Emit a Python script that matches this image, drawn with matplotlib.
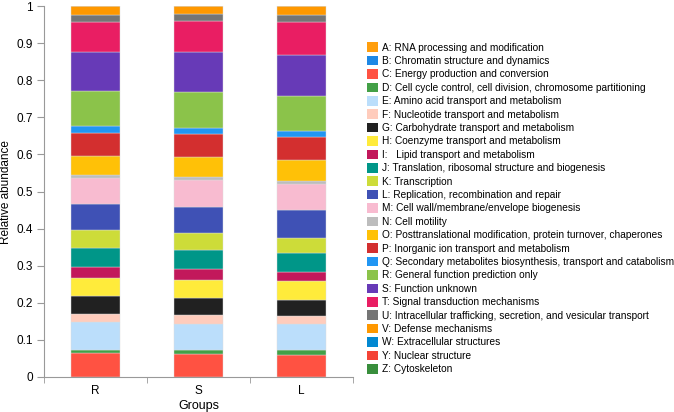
import matplotlib
matplotlib.use("Agg")
import matplotlib.pyplot as plt
from matplotlib.patches import Patch
import numpy as np

plt.rcParams['font.family'] = ['Liberation Sans', 'DejaVu Sans']

groups = ["R", "S", "L"]

codes = ["A", "B", "C", "D", "E", "F", "G", "H", "I", "J", "K", "L", "M",
         "N", "O", "P", "Q", "R", "S", "T", "U", "V", "W", "Y", "Z"]

labels = [
    "A: RNA processing and modification",
    "B: Chromatin structure and dynamics",
    "C: Energy production and conversion",
    "D: Cell cycle control, cell division, chromosome partitioning",
    "E: Amino acid transport and metabolism",
    "F: Nucleotide transport and metabolism",
    "G: Carbohydrate transport and metabolism",
    "H: Coenzyme transport and metabolism",
    "I:   Lipid transport and metabolism",
    "J: Translation, ribosomal structure and biogenesis",
    "K: Transcription",
    "L: Replication, recombination and repair",
    "M: Cell wall/membrane/envelope biogenesis",
    "N: Cell motility",
    "O: Posttranslational modification, protein turnover, chaperones",
    "P: Inorganic ion transport and metabolism",
    "Q: Secondary metabolites biosynthesis, transport and catabolism",
    "R: General function prediction only",
    "S: Function unknown",
    "T: Signal transduction mechanisms",
    "U: Intracellular trafficking, secretion, and vesicular transport",
    "V: Defense mechanisms",
    "W: Extracellular structures",
    "Y: Nuclear structure",
    "Z: Cytoskeleton",
]

colors = ["#FF9E0D", "#1E88E5", "#FF5242", "#43A047", "#BBDEFB", "#FFCCBC",
          "#212121", "#FFEB3B", "#C2185B", "#009688", "#CDDC39", "#3F51B5",
          "#F8BBD0", "#BDBDBD", "#FFC107", "#D32F2F", "#2196F3", "#8BC34A",
          "#673AB7", "#E91E63", "#757575", "#FF9800", "#0288D1", "#F44336",
          "#388E3C"]

# relative abundance per COG class, order: R, S, L
A = [0.0003, 0.0003, 0.0003]
B = [0.0002, 0.0002, 0.0002]
C = [0.063, 0.061, 0.060]
D = [0.010, 0.012, 0.012]
E = [0.075, 0.070, 0.071]
F = [0.022, 0.023, 0.020]
G = [0.048, 0.046, 0.043]
H = [0.048, 0.050, 0.052]
I = [0.029, 0.029, 0.024]
J = [0.053, 0.051, 0.052]
K = [0.049, 0.046, 0.041]
L = [0.068, 0.071, 0.075]
M = [0.072, 0.072, 0.071]
N = [0.008, 0.009, 0.007]
O = [0.050, 0.052, 0.056]
P = [0.063, 0.063, 0.062]
Q = [0.019, 0.017, 0.017]
R = [0.093, 0.095, 0.094]
S = [0.107, 0.108, 0.110]
T = [0.080, 0.084, 0.090]
U = [0.020, 0.020, 0.018]
V = [0.022, 0.020, 0.024]
W = [0.0001, 0.0001, 0.0001]
Y = [0.0002, 0.0002, 0.0002]
Z = [0.0002, 0.0002, 0.0002]

values = [A, B, C, D, E, F, G, H, I, J, K, L, M, N, O, P, Q, R, S, T, U, V, W, Y, Z]

fig = plt.figure(figsize=(6.74, 4.12), dpi=100)
ax = fig.add_axes([0.0653, 0.085, 0.4585, 0.900])

x = np.arange(len(groups))
bottom = np.zeros(len(groups))
for vals, col in zip(values, colors):
    vals = np.array(vals)
    ax.bar(x, vals, width=0.47, bottom=bottom, color=col,
           edgecolor="#dddddd", linewidth=0.3)
    bottom += vals

ax.set_xlim(-0.5, len(groups) - 0.5)
ax.set_ylim(0, 1)
ax.set_yticks(np.arange(0, 1.01, 0.1))
ax.set_yticklabels(["0"] + [f"{v:.1f}" for v in np.arange(0.1, 0.95, 0.1)] + ["1"])
ax.set_xticks(x)
ax.set_xticklabels(groups)
ax.set_xticks(np.arange(-0.5, len(groups), 1.0), minor=True)
ax.tick_params(axis="x", which="major", length=0, labelsize=8.5, pad=6)
ax.tick_params(axis="x", which="minor", length=4, color="#999999")
ax.tick_params(axis="y", length=5, color="#999999", labelsize=8.5, pad=3)

for side in ["top", "right"]:
    ax.spines[side].set_visible(False)
for side in ["left", "bottom"]:
    ax.spines[side].set_color("#999999")
    ax.spines[side].set_linewidth(0.8)

ax.set_ylabel("Relative abundance", fontsize=8.5, labelpad=3)
ax.set_xlabel("Groups", fontsize=9, labelpad=2)

handles = [Patch(facecolor=c, edgecolor="none") for c in colors]
fig.legend(handles, labels, loc="upper left", bbox_to_anchor=(0.5445, 0.897),
           frameon=False, fontsize=7.3, handlelength=1.08, handleheight=1.08,
           handletextpad=0.38, labelspacing=0.31, borderaxespad=0, borderpad=0)

fig.savefig("out.png", dpi=100)
